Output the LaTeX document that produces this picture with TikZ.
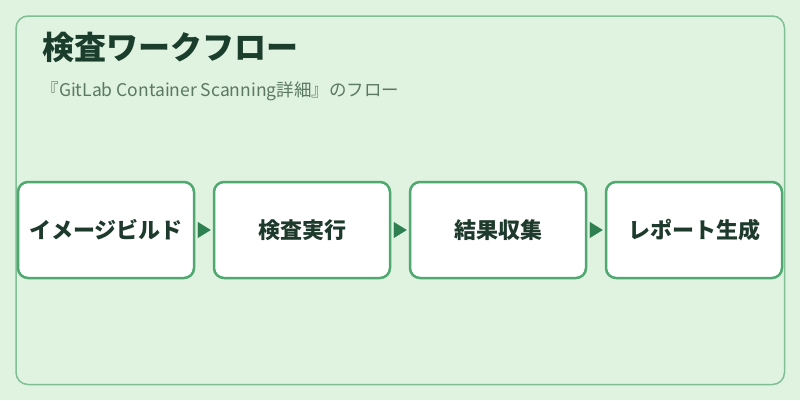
\documentclass[tikz,border=0pt]{standalone}
\usepackage{fontspec}
\setmainfont{Noto Sans CJK JP}
\usetikzlibrary{positioning,arrows.meta}
\definecolor{panelbg}{HTML}{E0F2E0}
\definecolor{frameedge}{HTML}{80BF94}
\definecolor{stageedge}{HTML}{4EA870}
\definecolor{arrowgreen}{HTML}{2E8050}
\definecolor{titletext}{HTML}{1B3D2C}
\definecolor{subtext}{HTML}{5A7862}
\definecolor{labeltext}{HTML}{1E3A2C}
\begin{document}
\begin{tikzpicture}[x=1pt,y=-1pt,
  stage/.style={draw=stageedge, line width=2.5pt, fill=white, rounded corners=10pt,
    minimum width=176pt, minimum height=96pt, inner sep=0pt,
    font=\bfseries\fontsize{22}{26}\selectfont, text=labeltext},
  flow/.style={draw=arrowgreen, fill=arrowgreen, line width=0.4pt,
    -{Triangle[length=13pt,width=16pt]}, shorten <=3pt, shorten >=2pt}]
\useasboundingbox (0,0) rectangle (800,400);
\fill[panelbg] (0,0) rectangle (800,400);
\draw[frameedge, line width=1.5pt, rounded corners=12pt] (16,16) rectangle (784.5,384.5);

\node[anchor=base west, text=titletext, font=\bfseries\fontsize{32}{38}\selectfont] (title) at (39,59) {検査ワークフロー};
\node[anchor=base west, text=subtext, font=\fontsize{17.5}{21}\selectfont] (subtitle) at (38,96) {『GitLab Container Scanning詳細』のフロー};

\node[stage] (build) at (106,230) {イメージビルド};
\node[stage, right=17.5pt of build] (scan) {検査実行};
\node[stage, right=17.5pt of scan] (collect) {結果収集};
\node[stage, right=17.5pt of collect] (report) {レポート生成};

\draw[flow] (build) -- (scan);
\draw[flow] (scan) -- (collect);
\draw[flow] (collect) -- (report);

\end{tikzpicture}
\end{document}
